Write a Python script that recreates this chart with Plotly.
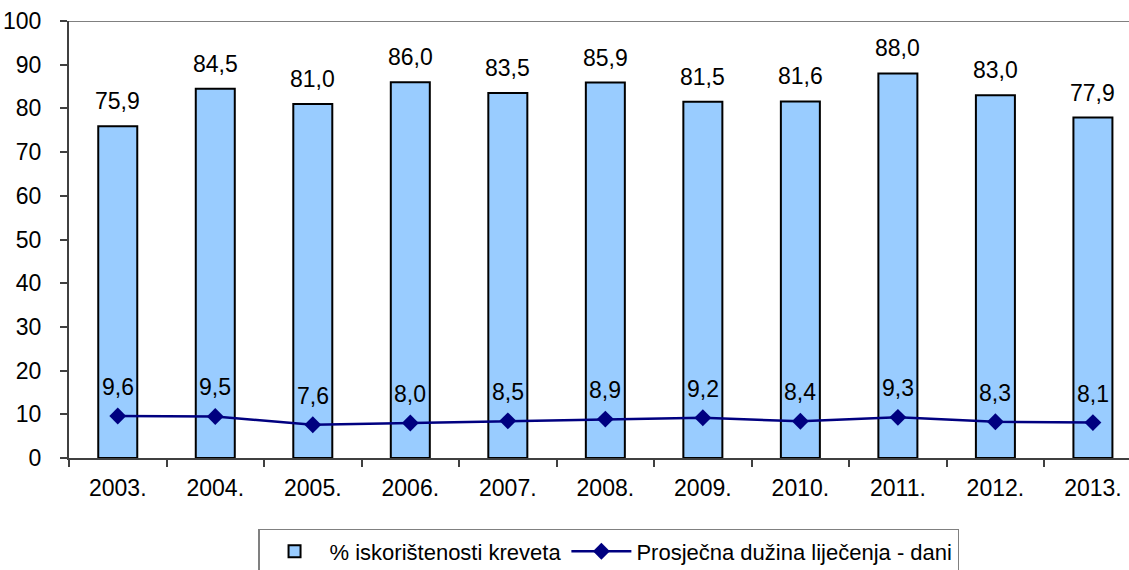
import plotly.graph_objects as go

years = ["2003.", "2004.", "2005.", "2006.", "2007.", "2008.", "2009.", "2010.", "2011.", "2012.", "2013."]
bed_use = [75.9, 84.5, 81.0, 86.0, 83.5, 85.9, 81.5, 81.6, 88.0, 83.0, 77.9]
avg_stay = [9.6, 9.5, 7.6, 8.0, 8.5, 8.9, 9.2, 8.4, 9.3, 8.3, 8.1]
y_ticks = [0, 10, 20, 30, 40, 50, 60, 70, 80, 90, 100]

FONT = "Liberation Sans"
SIZE = 23


def fmt(v):
    return f"{v:.1f}".replace(".", ",")


fig = go.Figure()
fig.add_trace(go.Bar(
    x=years, y=bed_use, name="% iskorištenosti kreveta",
    marker=dict(color="#99CCFF", line=dict(color="#000000", width=2)),
    width=0.4,
))
fig.add_trace(go.Scatter(
    x=years, y=avg_stay, name="Prosječna dužina liječenja - dani",
    mode="lines+markers",
    line=dict(color="#000080", width=2.5),
    marker=dict(symbol="diamond", size=13, color="#000080"),
))

fig.update_layout(
    width=1129, height=570,
    margin=dict(l=69, r=0, t=21, b=112, autoexpand=False),
    paper_bgcolor="white", plot_bgcolor="white",
    font=dict(family=FONT, size=SIZE, color="#000000"),
    showlegend=True,
    legend=dict(orientation="h", x=0.509, xanchor="center",
                yref="container", y=0.072, yanchor="top",
                bordercolor="#808080", borderwidth=1.5, itemwidth=60,
                font=dict(family=FONT, size=22, color="#000000")),
    bargap=0.6,
)

# value labels above bars and above line markers (x given as category index)
for i, v in enumerate(bed_use):
    fig.add_annotation(x=i, y=v, xref="x", yref="y", text=fmt(v),
                       showarrow=False, yanchor="bottom", yshift=10,
                       font=dict(family=FONT, size=SIZE, color="#000000"))
for i, v in enumerate(avg_stay):
    fig.add_annotation(x=i, y=v, xref="x", yref="y", text=fmt(v),
                       showarrow=False, yanchor="bottom", yshift=14,
                       font=dict(family=FONT, size=SIZE, color="#000000"))

fig.update_xaxes(
    range=[-0.5, 10.37], type="category", automargin=False,
    showline=True, linecolor="#404040", linewidth=2,
    ticks="outside", tickson="boundaries", ticklen=7, tickcolor="#404040", tickwidth=1.5,
    ticklabelstandoff=8,
    showgrid=False, tickfont=dict(size=SIZE),
)
fig.update_yaxes(
    range=[0, 100], tickvals=y_ticks, automargin=False,
    showline=True, linecolor="#404040", linewidth=2,
    ticks="outside", ticklen=7, tickcolor="#404040", tickwidth=1.5,
    ticklabelstandoff=14,
    showgrid=False, zeroline=False, tickfont=dict(size=SIZE),
)
# top border of the plot area
fig.add_shape(type="line", xref="paper", yref="y", x0=0, x1=1, y0=100, y1=100,
              line=dict(color="#808080", width=2))

fig.write_html("out.html")
